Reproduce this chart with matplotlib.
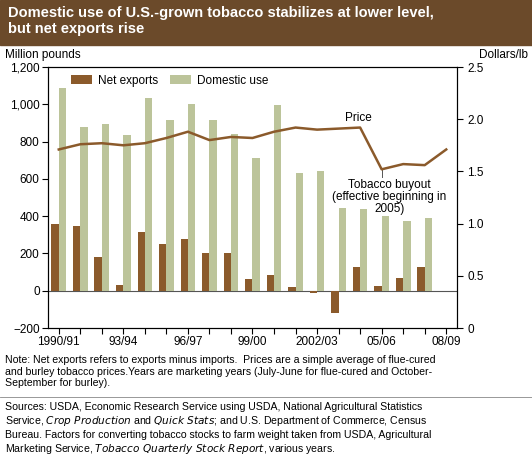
import matplotlib
matplotlib.use("Agg")
import matplotlib.pyplot as plt
import numpy as np

years = ["1990/91","","","93/94","","","96/97","","","99/00","","","2002/03","","","05/06","","","08/09"]
net_exports = [360,345,180,30,315,250,280,200,200,65,85,20,-10,-120,125,25,70,125]
domestic = [1085,880,895,835,1035,915,1000,915,840,710,995,630,640,445,440,400,375,390]
price = [1.71,1.76,1.77,1.75,1.77,1.82,1.88,1.80,1.83,1.82,1.88,1.92,1.90,1.91,1.92,1.52,1.57,1.56,1.71]

W, H = 532, 461
fig = plt.figure(figsize=(W/100, H/100), dpi=100)
plt.rcParams['font.family'] = ['Liberation Sans', 'DejaVu Sans']
brown = '#8b5a2b'
green = '#bcc49a'

fig.patches.append(matplotlib.patches.Rectangle((0, 1-45/H), 1, 45/H, transform=fig.transFigure, color='#6b4a2a', zorder=0))
fig.text(8/W, 1-6/H, "Domestic use of U.S.-grown tobacco stabilizes at lower level,\nbut net exports rise",
         color='white', fontsize=10.5, fontweight='bold', va='top', linespacing=1.15)

ax = fig.add_axes([48/W, 1-328/H, (457-48)/W, (328-67)/H])
x = np.arange(len(net_exports))
bw = 0.34
ax.bar(x - bw/2, net_exports, bw, color=brown, label='Net exports', zorder=2)
ax.bar(x + bw/2, domestic, bw, color=green, label='Domestic use', zorder=2)
ax.axhline(0, color='#555555', lw=0.8, zorder=1)
ax.set_ylim(-200, 1200)
ax.set_xlim(-0.5, 18.5)
ax.set_yticks(range(-200, 1201, 200))
ax.set_yticklabels(["\u2212200"] + [f"{v:,}" for v in range(0, 1201, 200)])
ax.set_xticks(range(len(years)))
ax.set_xticklabels(years)
ax.tick_params(labelsize=8.5, length=4, direction='out', pad=2)
ax.legend(loc='upper left', bbox_to_anchor=(0.03, 1.01), ncol=2, frameon=False, fontsize=8.5,
          handlelength=1.8, handleheight=0.8, columnspacing=1.0, handletextpad=0.5)

ax2 = ax.twinx()
ax2.plot(range(len(price)), price, color=brown, lw=1.8, zorder=3)
ax2.set_ylim(0, 2.5)
ax2.set_yticks([0, 0.5, 1.0, 1.5, 2.0, 2.5])
ax2.set_yticklabels(["0", "0.5", "1.0", "1.5", "2.0", "2.5"])
ax2.tick_params(labelsize=8.5, length=4)

fig.text(5/W, 1-55/H, "Million pounds", fontsize=8.5, va='center')
fig.text(528/W, 1-55/H, "Dollars/lb", fontsize=8.5, va='center', ha='right')

ax2.text(13.9, 1.98, "Price", fontsize=8.5, ha='center')
ax2.plot([15, 15], [1.52, 1.45], color='#555555', lw=0.7)
ax2.text(15.35, 1.43, "Tobacco buyout\n(effective beginning in\n2005)", fontsize=8.5, ha='center', va='top', linespacing=1.0)

fig.text(5/W, 1-355/H, "Note: Net exports refers to exports minus imports.  Prices are a simple average of flue-cured\n"
         "and burley tobacco prices.Years are marketing years (July-June for flue-cured and October-\n"
         "September for burley).", fontsize=7.6, va='top', linespacing=1.2)
fig.add_artist(matplotlib.lines.Line2D([0, 1], [1-397/H, 1-397/H], transform=fig.transFigure, color='#888888', lw=0.6))
fig.text(5/W, 1-402/H, "Sources: USDA, Economic Research Service using USDA, National Agricultural Statistics\n"
         "Service, $\\it{Crop\\ Production}$ and $\\it{Quick\\ Stats}$; and U.S. Department of Commerce, Census\n"
         "Bureau. Factors for converting tobacco stocks to farm weight taken from USDA, Agricultural\n"
         "Marketing Service, $\\it{Tobacco\\ Quarterly\\ Stock\\ Report}$, various years.",
         fontsize=7.6, va='top', linespacing=1.2)

fig.savefig("out.png", dpi=100)
